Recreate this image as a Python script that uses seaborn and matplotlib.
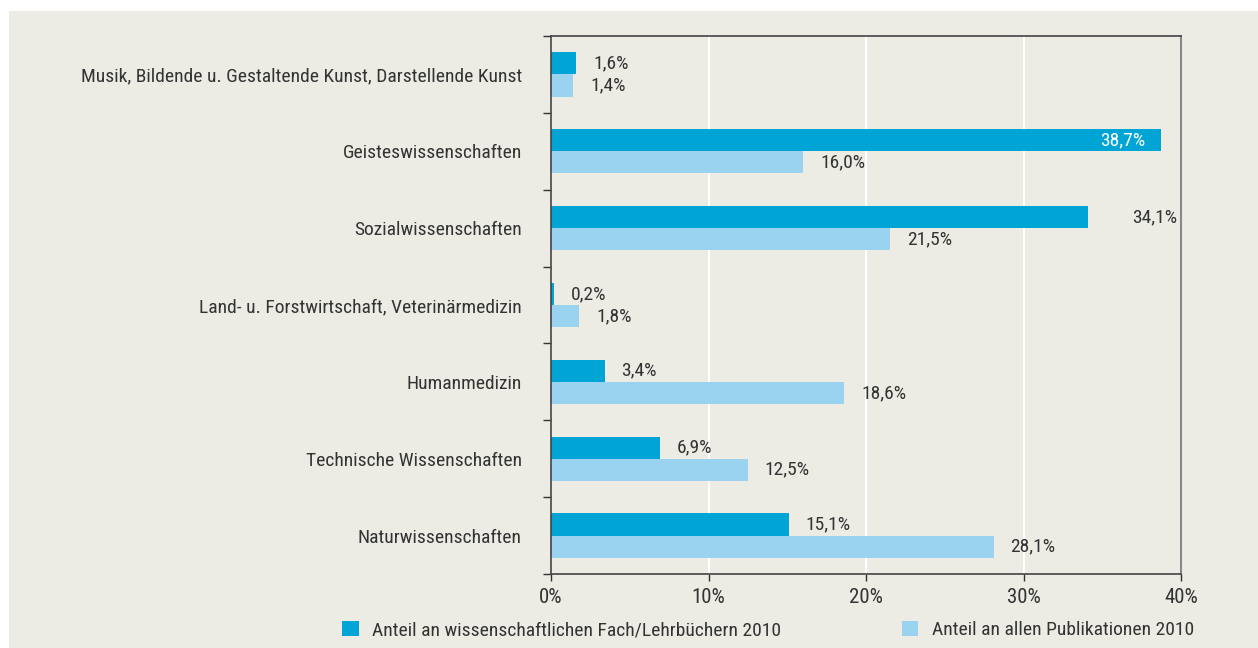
import pandas as pd
import seaborn as sns
import matplotlib.pyplot as plt
from matplotlib import font_manager
from matplotlib.patches import Rectangle, Patch
from matplotlib.ticker import FixedLocator, PercentFormatter

categories = [
    "Musik, Bildende u. Gestaltende Kunst, Darstellende Kunst",
    "Geisteswissenschaften",
    "Sozialwissenschaften",
    "Land- u. Forstwirtschaft, Veterinärmedizin",
    "Humanmedizin",
    "Technische Wissenschaften",
    "Naturwissenschaften",
]
series_names = [
    "Anteil an wissenschaftlichen Fach/Lehrbüchern 2010",
    "Anteil an allen Publikationen 2010",
]
fach_values = [1.6, 38.7, 34.1, 0.2, 3.4, 6.9, 15.1]
alle_values = [1.4, 16.0, 21.5, 1.8, 18.6, 12.5, 28.1]

colors = ["#00A5D5", "#9AD3EF"]
bg = "#ECEBE4"
text_col = "#333333"

df = pd.DataFrame({
    "Fach": categories * 2,
    "Serie": [series_names[0]] * len(categories) + [series_names[1]] * len(categories),
    "Anteil": fach_values + alle_values,
})

# pick a narrow font if one is around
installed = {f.name for f in font_manager.fontManager.ttflist}
narrow = [f for f in ["Liberation Sans Narrow", "Roboto Condensed", "Open Sans Condensed",
                      "DejaVu Sans"] if f in installed]

sns.set_theme(style="white")
plt.rcParams["font.family"] = narrow + ["DejaVu Sans"]
plt.rcParams["font.stretch"] = "condensed"
plt.rcParams["text.color"] = text_col

fig = plt.figure(figsize=(12.58, 6.48), dpi=100, facecolor="white")
fig.patches.append(Rectangle((9 / 1258, 0), 1, 1 - 11 / 648, transform=fig.transFigure,
                             facecolor=bg, edgecolor="none", zorder=-10))
ax = fig.add_axes([551 / 1258, 1 - 574 / 648, 630 / 1258, 538 / 648])
ax.set_facecolor(bg)

sns.barplot(data=df, x="Anteil", y="Fach", hue="Serie", hue_order=series_names,
            palette=colors, orient="h", width=0.575, saturation=1, linewidth=0,
            errorbar=None, legend=False, ax=ax)

ax.set_xlim(0, 40)
ax.set_ylim(len(categories) - 0.5, -0.5)
ax.xaxis.set_major_locator(FixedLocator([0, 10, 20, 30, 40]))
ax.xaxis.set_major_formatter(PercentFormatter(decimals=0))
ax.grid(axis="x", color="white", linewidth=1.5)
ax.set_axisbelow(True)
ax.set_xlabel("")
ax.set_ylabel("")

ax.yaxis.set_minor_locator(FixedLocator([i - 0.5 for i in range(len(categories) + 1)]))
ax.tick_params(axis="y", which="major", length=0, pad=21, labelsize=14, labelcolor=text_col)
ax.tick_params(axis="y", which="minor", left=True, length=6, width=1, color=text_col)
ax.tick_params(axis="x", which="major", bottom=True, length=5, width=1, color=text_col,
               labelsize=15, labelcolor=text_col, pad=5)

for side in ["left", "bottom", "top"]:
    ax.spines[side].set_color("#444444")
    ax.spines[side].set_linewidth(1.2)
ax.spines["right"].set_color("#888888")
ax.spines["right"].set_linewidth(1.5)

# value labels
for container in ax.containers:
    for bar in container:
        v = bar.get_width()
        y = bar.get_y() + bar.get_height() / 2
        txt = f"{v:.1f}".replace(".", ",") + "%"
        if v > 36:
            ax.annotate(txt, (v, y), xytext=(-15, 0), textcoords="offset pixels",
                        ha="right", va="center", color="white", fontsize=14)
        else:
            off = 44 if v > 33 else 17
            ax.annotate(txt, (v, y), xytext=(off, 0), textcoords="offset pixels",
                        ha="left", va="center", color=text_col, fontsize=14)

handles = [Patch(facecolor=c, edgecolor="none") for c in colors]
fig.legend(handles, series_names, loc="center left", bbox_to_anchor=(342 / 1258, 1 - 630 / 648),
           ncol=2, frameon=False, fontsize=14, handlelength=0.85, handleheight=0.85,
           handletextpad=0.7, columnspacing=6.2, borderpad=0, borderaxespad=0)

fig.savefig("out.png", dpi=100, facecolor="white")
